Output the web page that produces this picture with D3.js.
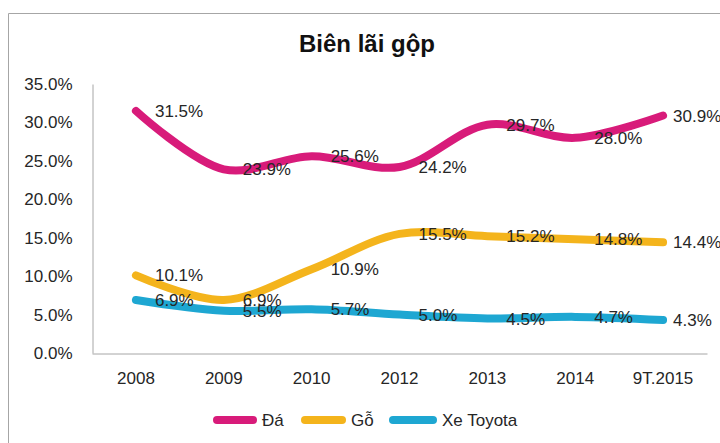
<!DOCTYPE html>
<html>
<head>
<meta charset="utf-8">
<script src="https://cdn.jsdelivr.net/npm/d3@7"></script>
<style>
  html, body { margin: 0; padding: 0; background: #fff; }
  svg { display: block; font-family: "Liberation Sans", Arial, sans-serif; }
</style>
</head>
<body>
<svg id="chart" width="720" height="443"></svg>
<script>
const title = "Biên lãi gộp";
const categories = ["2008", "2009", "2010", "2012", "2013", "2014", "9T.2015"];
const seriesNames = ["Đá", "Gỗ", "Xe Toyota"];
const seriesColors = ["#D81B7A", "#F4B41C", "#1EA7D2"];
const daValues = [31.5, 23.9, 25.6, 24.2, 29.7, 28.0, 30.9];
const goValues = [10.1, 6.9, 10.9, 15.5, 15.2, 14.8, 14.4];
const toyotaValues = [6.9, 5.5, 5.7, 5.0, 4.5, 4.7, 4.3];
const yTicks = [0, 5, 10, 15, 20, 25, 30, 35];

const series = [daValues, goValues, toyotaValues].map((vals, i) => ({
  name: seriesNames[i], color: seriesColors[i], values: vals
}));

const svg = d3.select("#chart");
const textColor = "#262626";

// outer chart border
svg.append("path")
  .attr("d", "M8.5,443 L8.5,13.5 L720,13.5")
  .attr("fill", "none").attr("stroke", "#a6a6a6").attr("stroke-width", 1);

// title
svg.append("text")
  .attr("x", 367).attr("y", 52)
  .attr("text-anchor", "middle")
  .attr("font-size", 24).attr("font-weight", "bold")
  .attr("fill", "#111")
  .text(title);

const plotLeft = 92, plotRight = 707, plotTop = 84, plotBottom = 353;

const x = d3.scaleBand().domain(categories).range([plotLeft, plotRight]);
const y = d3.scaleLinear().domain([0, 35]).range([plotBottom, plotTop]);

// y axis
const yAxis = d3.axisLeft(y).tickValues(yTicks).tickSize(0).tickPadding(20)
  .tickFormat(d => d.toFixed(1) + "%");
const gy = svg.append("g").attr("transform", `translate(${plotLeft + 0.5},0)`).call(yAxis);
gy.select(".domain").attr("stroke", "#a6a6a6");
gy.selectAll("text").attr("font-size", 17).attr("fill", textColor)
  .attr("font-family", "Liberation Sans, Arial, sans-serif");

// x axis
const xAxis = d3.axisBottom(x).tickSize(0).tickPadding(18);
const gx = svg.append("g").attr("transform", `translate(0,${plotBottom + 0.5})`).call(xAxis);
gx.select(".domain").attr("stroke", "#a6a6a6");
gx.selectAll("text").attr("font-size", 17).attr("fill", textColor)
  .attr("font-family", "Liberation Sans, Arial, sans-serif");

const cx = c => x(c) + x.bandwidth() / 2;

const line = d3.line()
  .x((d, i) => cx(categories[i]))
  .y(d => y(d))
  .curve(d3.curveCatmullRom.alpha(0.5));

const gLines = svg.append("g");
series.forEach(s => {
  gLines.append("path")
    .datum(s.values)
    .attr("d", line)
    .attr("fill", "none")
    .attr("stroke", s.color)
    .attr("stroke-width", 8)
    .attr("stroke-linecap", "round")
    .attr("stroke-linejoin", "round");
});

// data labels
const gLabels = svg.append("g");
series.forEach(s => {
  s.values.forEach((v, i) => {
    const last = i === s.values.length - 1;
    gLabels.append("text")
      .attr("x", cx(categories[i]) + (last ? 10 : 19))
      .attr("y", y(v))
      .attr("dy", "0.36em")
      .attr("font-size", 17)
      .attr("fill", textColor)
      .text(v.toFixed(1) + "%");
  });
});

// legend
const legendItems = [
  { x: 213, w: 44 },
  { x: 301, w: 45 },
  { x: 389, w: 48 }
];
const gLeg = svg.append("g");
series.forEach((s, i) => {
  const it = legendItems[i];
  gLeg.append("line")
    .attr("x1", it.x + 4).attr("x2", it.x + it.w - 4)
    .attr("y1", 420).attr("y2", 420)
    .attr("stroke", s.color).attr("stroke-width", 8)
    .attr("stroke-linecap", "round");
  gLeg.append("text")
    .attr("x", it.x + it.w + 5).attr("y", 420).attr("dy", "0.36em")
    .attr("font-size", 17).attr("fill", textColor)
    .text(s.name);
});
</script>
</body>
</html>
